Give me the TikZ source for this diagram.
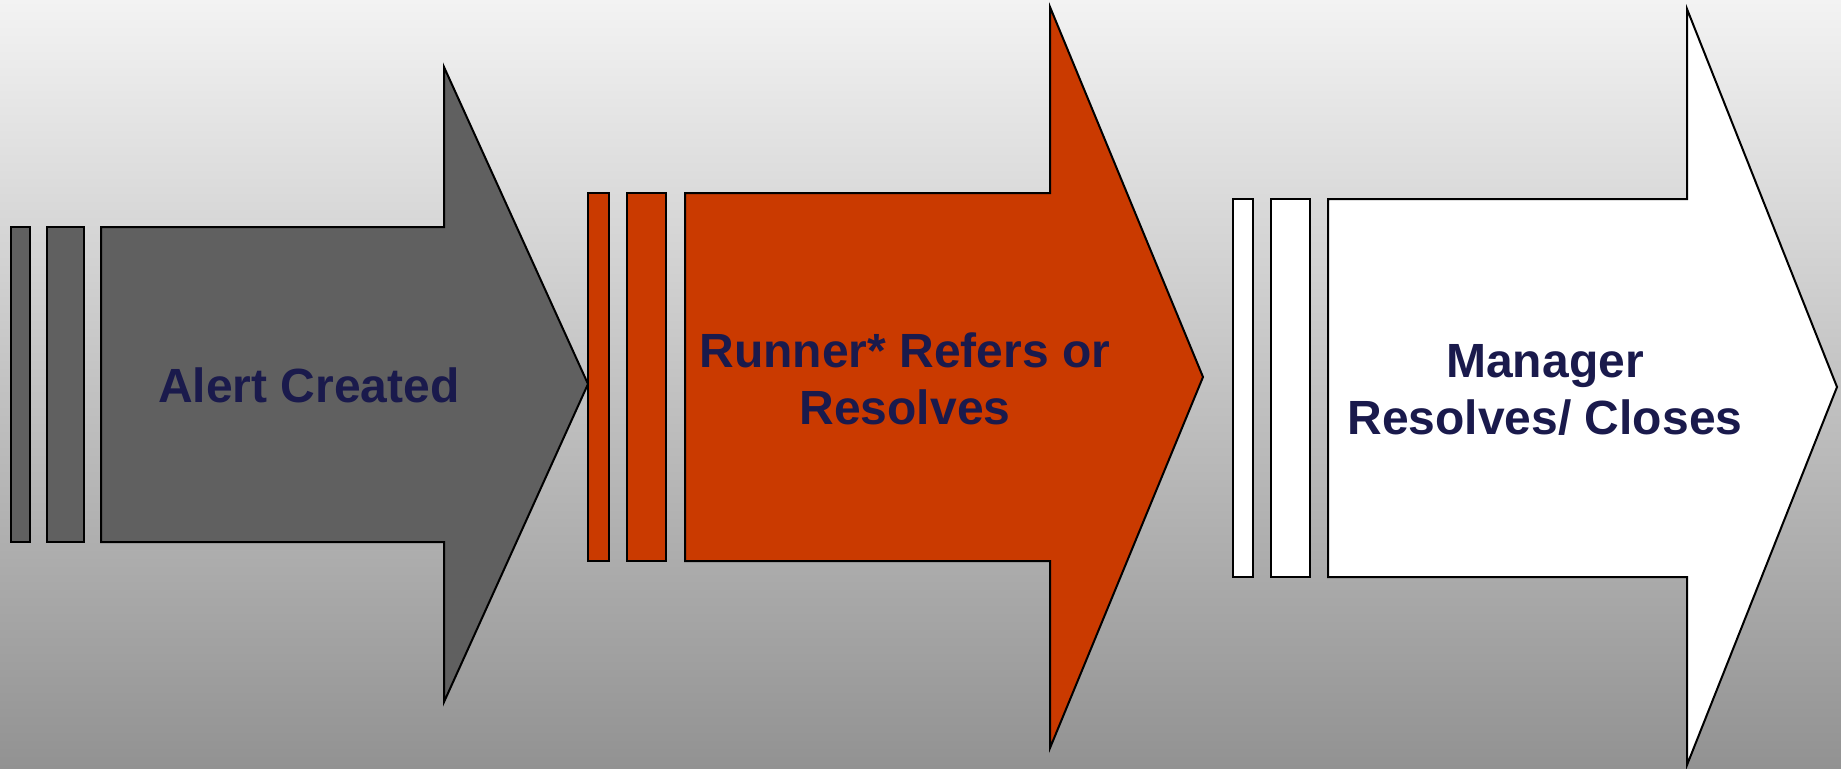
\documentclass[tikz,border=0pt]{standalone}
\usepackage{fontspec}
\setmainfont{Liberation Sans}
\definecolor{bgtop}{RGB}{243,243,243}
\definecolor{bgbot}{RGB}{146,146,146}
\definecolor{arrgray}{RGB}{96,96,96}
\definecolor{arrorange}{RGB}{202,58,0}
\definecolor{navy}{RGB}{26,26,76}
\tikzset{
  shapeline/.style={draw=black, line width=2pt, line join=miter},
  label/.style={text=navy, font=\fontsize{48}{57.6}\selectfont\bfseries, align=center, inner sep=0pt},
}
\begin{document}
\begin{tikzpicture}[x=1pt,y=-1pt]
\useasboundingbox (0,0) rectangle (1841,768);
\shade[top color=bgtop, bottom color=bgbot] (0,0) rectangle (1841,768);
% arrow 1
\draw[shapeline, fill=arrgray] (11,227) rectangle (30,542);
\draw[shapeline, fill=arrgray] (47,227) rectangle (84,542);
\draw[shapeline, fill=arrgray] (101,227) -- (444,227) -- (444,67) -- (588,384) -- (444,702) -- (444,542) -- (101,542) -- cycle;
% arrow 2
\draw[shapeline, fill=arrorange] (588,193) rectangle (609,561);
\draw[shapeline, fill=arrorange] (627,193) rectangle (666,561);
\draw[shapeline, fill=arrorange] (685,193) -- (1050,193) -- (1050,7) -- (1203,377) -- (1050,748) -- (1050,561) -- (685,561) -- cycle;
% arrow 3
\draw[shapeline, fill=white] (1233,199) rectangle (1253,577);
\draw[shapeline, fill=white] (1271,199) rectangle (1310,577);
\draw[shapeline, fill=white] (1328,199) -- (1687,199) -- (1687,9) -- (1837,387) -- (1687,765) -- (1687,577) -- (1328,577) -- cycle;
% labels
\node[label] (alert) at (309,385) {Alert Created};
\node[label] (runner) at (905,379) {Runner* Refers or \\ Resolves};
\node[label] (manager) at (1545,390) {Manager \\ Resolves/ Closes};
\end{tikzpicture}
\end{document}
